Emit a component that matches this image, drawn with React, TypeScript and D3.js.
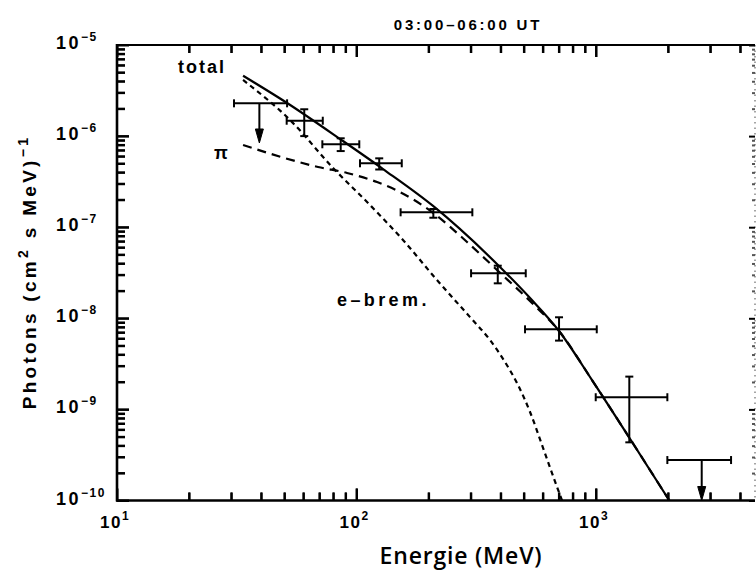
import React, { useEffect, useRef } from "react";
import * as d3 from "d3";

// ---- data ----
const pointEnergy = [60.5, 85.9, 124.4, 209.3, 388.8, 700.7, 1377];
const pointEnergyLow = [51.1, 72, 103.4, 152.8, 300.8, 505.3, 997];
const pointEnergyHigh = [72.3, 102.7, 154.5, 304.5, 508.8, 1007, 1985];
const pointFlux = [1.475e-6, 8.13e-7, 5.03e-7, 1.457e-7, 3.12e-8, 7.57e-9, 1.36e-9];
const pointFluxHigh = [1.97e-6, 9.46e-7, 5.7e-7, 1.585e-7, 3.78e-8, 1.026e-8, 2.29e-9];
const pointFluxLow = [1.0e-6, 6.85e-7, 4.3e-7, 1.27e-7, 2.42e-8, 5.69e-9, 4.35e-10];

const limitEnergy = [39.3, 2762];
const limitEnergyLow = [30.8, 1985];
const limitEnergyHigh = [51.3, 3662];
const limitFlux = [2.29e-6, 2.78e-10];
const limitArrowTo = [8.4e-7, 1.0e-10];

const totalEnergy = [33.6, 51.3, 87.8, 129, 208.7, 397, 530.2, 700.7, 962.3, 1414, 2023];
const totalFlux = [4.6e-6, 2.31e-6, 8.83e-7, 4.35e-7, 1.71e-7, 3.66e-8, 1.67e-8, 7.26e-9, 2.1e-9, 4.39e-10, 1e-10];

const pionEnergy = [33.6, 48.4, 69.1, 91.3, 121.8, 152, 208.7, 289.3, 386, 545.8, 700.7, 962.3, 1414, 2023];
const pionFlux = [7.98e-7, 5.9e-7, 4.58e-7, 3.94e-7, 3.13e-7, 2.43e-7, 1.44e-7, 6.88e-8, 3.39e-8, 1.435e-8, 7.26e-9, 2.1e-9, 4.39e-10, 1e-10];

const bremEnergy = [33.6, 52.8, 79.8, 113.9, 156.3, 216.7, 297.8, 360.9, 416.9, 472.4, 530.2, 595, 655, 721];
const bremFlux = [4.13e-6, 1.5e-6, 4.47e-7, 1.75e-7, 7.24e-8, 2.63e-8, 1.03e-8, 5.78e-9, 3.31e-9, 1.853e-9, 9.37e-10, 4.07e-10, 2.0e-10, 1e-10];

const xTickDecades = [1, 2, 3];
const yTickDecades = [-5, -6, -7, -8, -9, -10];
const minorMultiples = [1, 2, 3, 4, 5, 6, 7, 8, 9];

const title = "03:00\u201306:00 UT";
const xTitle = "Energie (MeV)";

// ---- layout ----
const W = 756;
const H = 570;
const L = 117;
const R = 755;
const T = 45;
const B = 500.5;

const FONT = "'Liberation Sans', Arial, sans-serif";

const isMajor = (v: number) => {
  const l = Math.log10(v);
  return Math.abs(l - Math.round(l)) < 1e-6;
};

export default function App() {
  const axesRef = useRef<SVGGElement | null>(null);

  const x = d3.scaleLog().domain([10, 4610]).range([L, R]);
  const y = d3.scaleLog().domain([1e-10, 1e-5]).range([B, T]);

  const xTickValues: number[] = [];
  xTickDecades.forEach((p) =>
    minorMultiples.forEach((m) => {
      const v = m * Math.pow(10, p);
      if (v >= 10 && v <= 4610) xTickValues.push(v);
    })
  );
  const yTickValues: number[] = [];
  yTickDecades.forEach((p) =>
    minorMultiples.forEach((m) => {
      const v = m * Math.pow(10, p);
      if (v >= 1e-10 && v <= 1.0001e-5) yTickValues.push(v);
    })
  );

  useEffect(() => {
    if (!axesRef.current) return;
    const g = d3.select(axesRef.current);
    g.selectAll("*").remove();

    const bottom = g
      .append("g")
      .attr("transform", `translate(0,${B})`)
      .call(d3.axisTop(x).tickValues(xTickValues).tickFormat(() => "").tickSizeOuter(0));
    bottom.select(".domain").remove();
    bottom
      .selectAll<SVGLineElement, number>(".tick line")
      .attr("y2", (d) => (isMajor(d) ? -12 : -8))
      .attr("stroke", "#000")
      .attr("stroke-width", 2);

    const top = g
      .append("g")
      .attr("transform", `translate(0,${T})`)
      .call(d3.axisBottom(x).tickValues(xTickValues).tickFormat(() => "").tickSizeOuter(0));
    top.select(".domain").remove();
    top
      .selectAll<SVGLineElement, number>(".tick line")
      .attr("y2", (d) => (isMajor(d) ? 12 : 8))
      .attr("stroke", "#000")
      .attr("stroke-width", 2);

    const left = g
      .append("g")
      .attr("transform", `translate(${L},0)`)
      .call(d3.axisRight(y).tickValues(yTickValues).tickFormat(() => "").tickSizeOuter(0));
    left.select(".domain").remove();
    left
      .selectAll<SVGLineElement, number>(".tick line")
      .attr("x2", (d) => (isMajor(d) ? 12 : 8))
      .attr("stroke", "#000")
      .attr("stroke-width", 2);

    const right = g
      .append("g")
      .attr("transform", `translate(${R},0)`)
      .call(d3.axisLeft(y).tickValues(yTickValues).tickFormat(() => "").tickSizeOuter(0));
    right.select(".domain").remove();
    right
      .selectAll<SVGLineElement, number>(".tick line")
      .attr("x2", (d) => (isMajor(d) ? -6 : -3))
      .attr("stroke", (d) => (isMajor(d) ? "#000" : "#555"))
      .attr("stroke-width", 2);
  });

  const lineGen = d3
    .line<[number, number]>()
    .x((d) => x(d[0]))
    .y((d) => y(d[1]))
    .curve(d3.curveMonotoneX);

  const total = lineGen(totalEnergy.map((e, i) => [e, totalFlux[i]] as [number, number]));
  const pion = lineGen(pionEnergy.map((e, i) => [e, pionFlux[i]] as [number, number]));
  const brem = lineGen(bremEnergy.map((e, i) => [e, bremFlux[i]] as [number, number]));

  // fallback tick rectangles (filled, not stroked)
  const tickRects: { x: number; y: number; w: number; h: number }[] = [];
  xTickValues.forEach((v) => {
    const len = isMajor(v) ? 12 : 8;
    const px = x(v);
    tickRects.push({ x: px - 1, y: B - len, w: 2, h: len });
    tickRects.push({ x: px - 1, y: T, w: 2, h: len });
  });
  yTickValues.forEach((v) => {
    const len = isMajor(v) ? 12 : 8;
    const py = y(v);
    tickRects.push({ x: L, y: py - 1, w: len, h: 2 });
  });

  const cap = 4;

  return (
    <svg width={W} height={H} style={{ position: "absolute", left: 0, top: 0 }}>
      {/* frame */}
      <line x1={L} x2={L} y1={T - 1} y2={B + 1} stroke="#000" strokeWidth={2.6} />
      <line x1={L - 1} x2={R} y1={B} y2={B} stroke="#000" strokeWidth={2.6} />
      <line x1={L - 1} x2={R} y1={T} y2={T} stroke="#000" strokeWidth={2.2} />
      <line x1={R} x2={R} y1={T} y2={B} stroke="#888" strokeWidth={1.5} strokeDasharray="1.5 4" />

      {/* ticks via d3 axes */}
      <g ref={axesRef} />
      <g fill="#000">
        {tickRects.map((r, i) => (
          <rect key={"tr" + i} x={r.x} y={r.y} width={r.w} height={r.h} />
        ))}
      </g>

      {/* title */}
      <text
        x={468}
        y={30}
        textAnchor="middle"
        fontFamily={FONT}
        fontWeight="bold"
        fontSize={15}
        letterSpacing={2.8}
      >
        {title}
      </text>

      {/* x tick labels */}
      {xTickDecades.map((p) => (
        <text
          key={"xlab" + p}
          x={x(Math.pow(10, p)) - 17}
          y={528}
          fontFamily={FONT}
          fontWeight="bold"
          fontSize={17}
          letterSpacing={1.5}
        >
          10
          <tspan fontSize={12} dy={-8}>
            {p}
          </tspan>
        </text>
      ))}

      {/* y tick labels */}
      {yTickDecades.map((p) => (
        <text
          key={"ylab" + p}
          x={56}
          y={y(Math.pow(10, p)) + 4}
          fontFamily={FONT}
          fontWeight="bold"
          fontSize={18}
          letterSpacing={2.5}
        >
          10
          <tspan fontSize={12} dy={-8} letterSpacing={1.5}>
            {"\u2212" + Math.abs(p)}
          </tspan>
        </text>
      ))}

      {/* axis titles */}
      <text
        transform="translate(36,272) rotate(-90)"
        textAnchor="middle"
        fontFamily={FONT}
        fontWeight="bold"
        fontSize={19}
        letterSpacing={3.3}
      >
        Photons (cm
        <tspan fontSize={14} dy={-8}>
          2
        </tspan>
        <tspan dy={8}> s MeV)</tspan>
        <tspan fontSize={14} dy={-8}>
          {"\u22121"}
        </tspan>
      </text>
      <text
        x={461}
        y={564}
        textAnchor="middle"
        fontFamily="'Open Sans', sans-serif"
        fontWeight={600}
        fontSize={23}
        letterSpacing={0.8}
      >
        {xTitle}
      </text>

      {/* model curves */}
      <g fill="none" stroke="#000">
        <path d={total ?? ""} strokeWidth={2.2} />
        <path d={pion ?? ""} strokeWidth={2.2} strokeDasharray="9 6" />
        <path d={brem ?? ""} strokeWidth={2.2} strokeDasharray="5 4" />
      </g>

      {/* curve labels */}
      <text x={178} y={73} fontFamily={FONT} fontWeight="bold" fontSize={18} letterSpacing={2}>
        total
      </text>
      <text x={214} y={159} fontFamily={FONT} fontWeight="bold" fontSize={18}>
        {"\u03c0"}
      </text>
      <text x={337} y={306} fontFamily={FONT} fontWeight="bold" fontSize={18} letterSpacing={3.4}>
        {"e\u2013brem."}
      </text>

      {/* data points */}
      <g stroke="#000" strokeWidth={2} fill="none">
        {pointEnergy.map((e, i) => {
          const cx = x(e);
          const cy = y(pointFlux[i]);
          const x0 = x(pointEnergyLow[i]);
          const x1 = x(pointEnergyHigh[i]);
          const y0 = y(pointFluxHigh[i]);
          const y1 = y(pointFluxLow[i]);
          return (
            <g key={"p" + i}>
              <line x1={x0} x2={x1} y1={cy} y2={cy} />
              <line x1={x0} x2={x0} y1={cy - cap} y2={cy + cap} />
              <line x1={x1} x2={x1} y1={cy - cap} y2={cy + cap} />
              <line x1={cx} x2={cx} y1={y0} y2={y1} />
              <line x1={cx - cap} x2={cx + cap} y1={y0} y2={y0} />
              <line x1={cx - cap} x2={cx + cap} y1={y1} y2={y1} />
            </g>
          );
        })}
        {limitEnergy.map((e, i) => {
          const cx = x(e);
          const cy = y(limitFlux[i]);
          const x0 = x(limitEnergyLow[i]);
          const x1 = x(limitEnergyHigh[i]);
          const tip = y(limitArrowTo[i]);
          return (
            <g key={"ul" + i}>
              <line x1={x0} x2={x1} y1={cy} y2={cy} />
              <line x1={x0} x2={x0} y1={cy - cap} y2={cy + cap} />
              <line x1={x1} x2={x1} y1={cy - cap} y2={cy + cap} />
              <line x1={cx} x2={cx} y1={cy} y2={tip - 8} />
              <path
                d={`M${cx - 4},${tip - 14} L${cx + 4},${tip - 14} L${cx},${tip} Z`}
                fill="#000"
                strokeWidth={1}
              />
            </g>
          );
        })}
      </g>
    </svg>
  );
}
